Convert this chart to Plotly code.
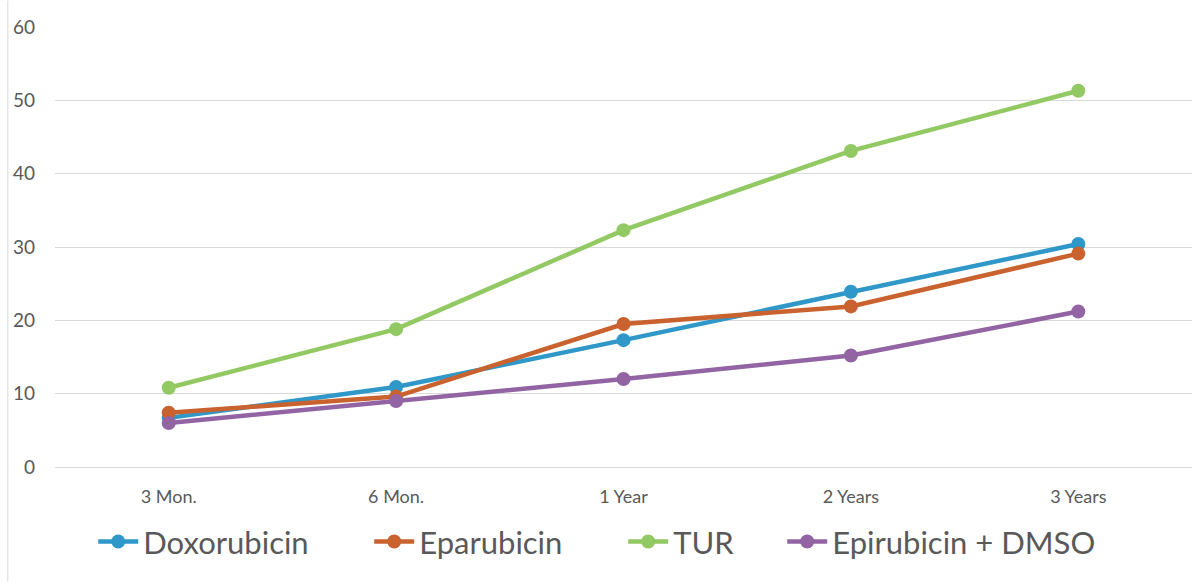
import plotly.graph_objects as go

categories = ["3 Mon.", "6 Mon.", "1 Year", "2 Years", "3 Years"]
series_names = ["Doxorubicin", "Eparubicin", "TUR", "Epirubicin + DMSO"]
doxorubicin = [6.7, 10.9, 17.3, 23.9, 30.4]
eparubicin = [7.4, 9.6, 19.5, 21.9, 29.1]
tur = [10.8, 18.8, 32.3, 43.1, 51.3]
epirubicin_dmso = [6.0, 9.0, 12.0, 15.2, 21.2]
y_ticks = [0, 10, 20, 30, 40, 50, 60]

colors = ["#2F98C9", "#C9622E", "#92C963", "#9264A3"]
values = [doxorubicin, eparubicin, tur, epirubicin_dmso]
legend_widths = [221, 199, 104, 300]

FONT = "Lato, 'Open Sans', sans-serif"

fig = go.Figure()
for name, vals, col, lw in zip(series_names, values, colors, legend_widths):
    fig.add_trace(go.Scatter(
        x=categories, y=vals, name=name, mode="lines+markers",
        line=dict(color=col, width=4.5),
        marker=dict(color=col, size=14),
        legendwidth=lw,
    ))

fig.update_layout(
    width=1192, height=585,
    margin=dict(l=55, r=0, t=27, b=118),
    paper_bgcolor="white", plot_bgcolor="white",
    font=dict(family=FONT, color="#595959"),
    showlegend=True,
    legend=dict(
        orientation="h", x=0.0336, xanchor="left", y=-0.17, yanchor="middle",
        font=dict(size=31, color="#595959", family=FONT),
        itemwidth=40, tracegroupgap=0, bgcolor="rgba(0,0,0,0)",
    ),
    xaxis=dict(
        type="category", showgrid=False, zeroline=False, showline=False,
        tickfont=dict(size=18, color="#595959"), ticklabelstandoff=17,
        range=[-0.5, 4.5], automargin=False,
    ),
    yaxis=dict(
        range=[0, 60], tickvals=y_ticks, showgrid=True, gridcolor="#D9D9D9",
        gridwidth=1, zeroline=True, zerolinecolor="#D9D9D9", zerolinewidth=1,
        showline=False, tickfont=dict(size=19, color="#595959"),
        ticklabelstandoff=19, automargin=False,
    ),
    shapes=[dict(type="line", xref="paper", yref="paper",
                 x0=-0.0415, x1=-0.0415, y0=1.06, y1=-0.26,
                 line=dict(color="#D9D9D9", width=1))],
)

fig.write_html("out.html")
